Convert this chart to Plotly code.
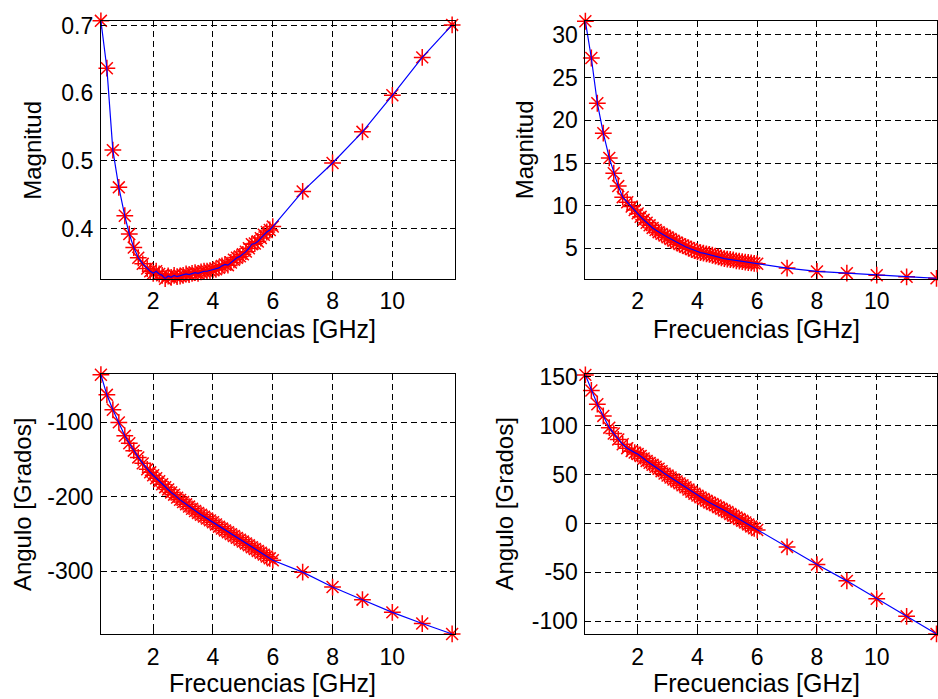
import plotly.graph_objects as go

# Frequencies [GHz]
freq = [0.25, 0.45, 0.65, 0.85, 1.05, 1.2, 1.35, 1.5, 1.65,
        1.8, 1.9, 2.0, 2.1, 2.2, 2.3, 2.4, 2.5, 2.6, 2.7, 2.8, 2.9,
        3.0, 3.1, 3.2, 3.3, 3.4, 3.5, 3.6, 3.7, 3.8, 3.9,
        4.0, 4.1, 4.2, 4.3, 4.4, 4.5, 4.6, 4.7, 4.8, 4.9,
        5.0, 5.1, 5.2, 5.3, 5.4, 5.5, 5.6, 5.7, 5.8, 5.9,
        6.0, 7, 8, 9, 10, 11, 12]

# Top-left: magnitude
mag1 = [0.707, 0.637, 0.516, 0.461, 0.419, 0.392, 0.372, 0.357, 0.348,
        0.341, 0.337, 0.334, 0.337, 0.333, 0.331, 0.326, 0.330, 0.328, 0.331, 0.329, 0.330,
        0.331, 0.333, 0.332, 0.334, 0.335, 0.334, 0.336, 0.337, 0.337, 0.338,
        0.339, 0.340, 0.342, 0.345, 0.347, 0.346, 0.350, 0.354, 0.357, 0.359,
        0.362, 0.366, 0.371, 0.377, 0.378, 0.381, 0.386, 0.391, 0.395, 0.398,
        0.403, 0.455, 0.497, 0.543, 0.597, 0.653, 0.701]

# Top-right: magnitude
mag2 = [31.6, 27.3, 22.0, 18.5, 15.6, 13.8, 12.3, 11.0, 10.4,
        9.9, 9.5, 9.1, 8.7, 8.35, 8.0, 7.7, 7.4, 7.15, 6.9, 6.7, 6.5,
        6.3, 6.1, 5.9, 5.7, 5.5, 5.35, 5.2, 5.05, 4.9, 4.75,
        4.6, 4.5, 4.45, 4.35, 4.3, 4.2, 4.1, 4.0, 3.9, 3.8,
        3.75, 3.7, 3.65, 3.55, 3.5, 3.45, 3.4, 3.35, 3.3, 3.25,
        3.2, 2.7, 2.3, 2.1, 1.86, 1.67, 1.5]

# Bottom-left: angle [deg]
ang1 = [-36, -63, -83, -100, -118, -128, -138, -147, -155,
        -163, -167, -171, -175, -179, -183, -187, -190, -194, -197, -201, -204,
        -207, -210, -213, -216, -219, -221.5, -224, -226.5, -229, -231.5,
        -234, -237, -240, -242.5, -245, -247.5, -250, -252.5, -255, -257.5,
        -260, -262.5, -265, -267.5, -270, -272.5, -275, -277.5, -280, -282.5,
        -285, -301, -321, -338, -355, -370, -384]

# Bottom-right: angle [deg]
ang2 = [152, 136, 122, 110, 98, 92, 86, 81, 77,
        74, 72.5, 71, 69, 66.5, 64, 62, 60, 58, 56, 53.5, 51,
        49, 47, 45, 43, 41, 39, 37, 34.7, 32.5, 30.5,
        28.5, 26.7, 25, 23.2, 21.5, 20, 18.5, 16.7, 15, 13.3,
        11.7, 9.8, 8, 6.2, 4.5, 2.7, 1, -1, -3, -4.9,
        -6.7, -24, -42, -58.7, -77, -95, -113]

xticks = [2, 4, 6, 8, 10]
yticks1 = [0.4, 0.5, 0.6, 0.7]
yticks2 = [5, 10, 15, 20, 25, 30]
yticks3 = [-300, -200, -100]
yticks4 = [-100, -50, 0, 50, 100, 150]

W, H = 938, 699
FONT = "Liberation Sans, Arial, sans-serif"

def px_x(p):
    return p / W

def px_y(p):
    return 1 - p / H

panels = [
    # (y data, yticks, xdomain px, ydomain px, xrange, yrange)
    (mag1, yticks1, (101, 455), (10, 272), [0.25, 12.08], [0.326, 0.707]),
    (mag2, yticks2, (586, 937.5), (10, 272), [0.25, 12.0], [1.45, 31.65]),
    (ang1, yticks3, (101, 455), (369.3, 633.3), [0.25, 12.08], [-384.5, -35.7]),
    (ang2, yticks4, (586, 937.5), (369.3, 633.3), [0.25, 12.0], [-113.4, 152.4]),
]

fig = go.Figure()
layout = dict(
    width=W, height=H, margin=dict(l=0, r=0, t=0, b=0),
    paper_bgcolor="white", plot_bgcolor="white", showlegend=False,
    font=dict(family=FONT, size=23, color="black"),
)

for i, (yd, yt, xd, yd_px, xr, yr) in enumerate(panels, start=1):
    xa = "x" if i == 1 else f"x{i}"
    ya = "y" if i == 1 else f"y{i}"
    fig.add_trace(go.Scatter(
        x=freq, y=yd, mode="markers", xaxis=xa, yaxis=ya,
        marker=dict(symbol="asterisk-open", size=14, color="red",
                    line=dict(color="red", width=1.5)),
        cliponaxis=False,
    ))
    fig.add_trace(go.Scatter(
        x=freq, y=yd, mode="lines", xaxis=xa, yaxis=ya,
        line=dict(color="blue", width=1.2),
    ))
    axis_common = dict(
        showline=True, linecolor="black", linewidth=1, mirror="allticks",
        ticks="inside", ticklen=5, tickcolor="black", tickwidth=1,
        showgrid=True, gridcolor="black", gridwidth=1, griddash="6px,4px",
        zeroline=False, tickfont=dict(family=FONT, size=23, color="black"),
    )
    layout["xaxis" if i == 1 else f"xaxis{i}"] = dict(
        axis_common, domain=[px_x(xd[0]), px_x(xd[1])], range=xr,
        tickmode="array", tickvals=xticks, ticktext=[str(v) for v in xticks],
        anchor=ya, ticklabelstandoff=2,
    )
    layout["yaxis" if i == 1 else f"yaxis{i}"] = dict(
        axis_common, domain=[px_y(yd_px[1]), px_y(yd_px[0])], range=yr,
        tickmode="array", tickvals=yt, ticktext=[str(v) for v in yt],
        anchor=xa, ticklabelstandoff=2,
    )

annotations = []
# x-axis titles
for cx, cy in [(273, 323), (757, 323), (273, 683), (757, 683)]:
    annotations.append(dict(
        text="Frecuencias [GHz]", xref="paper", yref="paper",
        x=px_x(cx), y=px_y(cy), xanchor="center", yanchor="middle",
        showarrow=False, font=dict(family=FONT, size=25, color="black"),
    ))
# y-axis titles
for txt, cx, cy in [("Magnitud", 33, 141), ("Magnitud", 525, 141),
                    ("Angulo [Grados]", 22, 501), ("Angulo [Grados]", 505, 501)]:
    annotations.append(dict(
        text=txt, xref="paper", yref="paper",
        x=px_x(cx), y=px_y(cy), xanchor="center", yanchor="middle",
        textangle=-90, showarrow=False,
        font=dict(family=FONT, size=24, color="black"),
    ))
layout["annotations"] = annotations

fig.update_layout(**layout)
fig.write_html("out.html")
